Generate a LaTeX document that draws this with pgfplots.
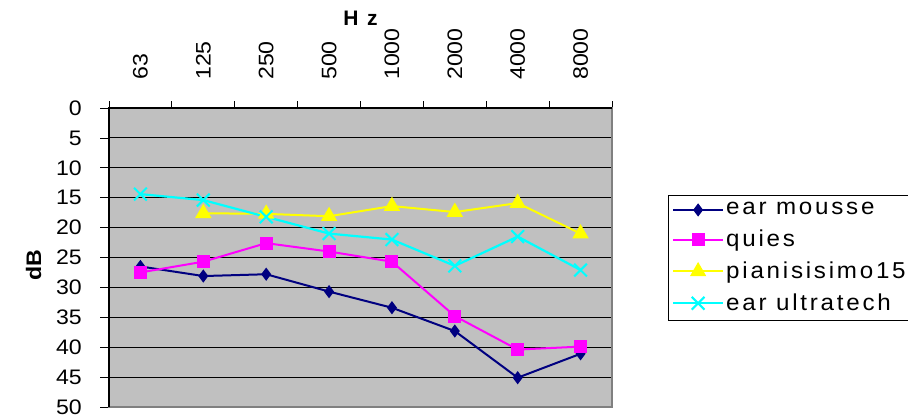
\documentclass[border=0pt]{standalone}
\usepackage{fontspec}
\setmainfont{Liberation Sans}[FakeStretch=1.1]
\newfontfamily\legfont{Liberation Sans}[LetterSpace=12,FakeStretch=1.05]
\newfontfamily\titfont{Liberation Sans}[LetterSpace=40]
\usepackage{pgfplots}
\pgfplotsset{compat=1.18}
\definecolor{plotgray}{RGB}{192,192,192}
\definecolor{bordergray}{RGB}{128,128,128}
\definecolor{mnavy}{RGB}{0,0,128}
\definecolor{mmag}{RGB}{255,0,255}
\definecolor{myel}{RGB}{255,255,0}
\definecolor{mcyan}{RGB}{0,255,255}
\begin{document}
\fontsize{21bp}{25bp}\selectfont
\begin{tikzpicture}
\useasboundingbox (0,0) rectangle (908bp,417bp);
\begin{axis}[
  at={(109bp,10bp)}, anchor=south west,
  scale only axis, width=503bp, height=299bp,
  xmin=-0.5, xmax=7.5, ymin=0, ymax=50,
  y dir=reverse,
  axis background/.style={fill=plotgray},
  axis line style={draw=bordergray, line width=1.2bp},
  xtick={0,...,7},
  xticklabels={63,125,250,500,1000,2000,4000,8000},
  xtick pos=right,
  xticklabel pos=right,
  ytick pos=left,
  major x tick style={draw=none},
  minor xtick={-0.5,0.5,...,7.5},
  minor x tick style={draw=black, line width=0.8bp},
  minor tick length=7bp,
  xticklabel style={rotate=90, anchor=west, yshift=0bp, xshift=12bp},
  ytick={0,5,...,50},
  tick align=outside,
  major tick length=9bp,
  y tick style={draw=black, line width=0.8bp},
  ymajorgrids,
  grid style={black, line width=0.9bp},
  /pgf/number format/assume math mode=true,
  yticklabel style={xshift=-11bp},
  legend style={at={(1.111,0.709)}, anchor=north west, draw=black,
    fill=white, font=\legfont\fontsize{23bp}{27bp}\selectfont, inner xsep=4bp, inner ysep=5bp,
    row sep=8bp, nodes={inner sep=2bp}},
  legend cell align=left,
  legend image code/.code={\draw[mark repeat=2,mark phase=2] plot coordinates {(0bp,0bp)(25bp,0bp)(50bp,0bp)};},
  clip=false,
]
\addplot[mnavy, line width=2bp, mark=diamond*, mark size=5bp, mark options={solid}] coordinates {
 (0,26.5) (1,28.1) (2,27.8) (3,30.7) (4,33.4) (5,37.3) (6,45.1) (7,41.1)};
\addlegendentry{ear mousse}
\addplot[mmag, line width=2bp, mark=square*, mark size=5.5bp] coordinates {
 (0,27.5) (1,25.7) (2,22.6) (3,24.0) (4,25.7) (5,34.8) (6,40.4) (7,39.9)};
\addlegendentry{quies}
\addplot[myel, line width=2bp, mark=triangle*, mark size=7.5bp] coordinates {
 (1,17.6) (2,17.7) (3,18.1) (4,16.4) (5,17.4) (6,15.9) (7,21.0)};
\addlegendentry{pianisisimo15}
\addplot[mcyan, line width=2.2bp, mark=x, mark size=9bp, mark options={line width=2bp}] coordinates {
 (0,14.4) (1,15.4) (2,18.2) (3,21.0) (4,22.0) (5,26.4) (6,21.5) (7,27.1)};
\addlegendentry{ear ultratech}
\draw[black, line width=1.2bp] (rel axis cs:0,0) -- (rel axis cs:0,1) -- (rel axis cs:1,1);
\node[font=\titfont\bfseries] at (axis description cs:0.5,1.301) {Hz};
\node[font=\bfseries, rotate=90] at (axis description cs:-0.15,0.475) {dB};
\end{axis}
\end{tikzpicture}
\end{document}
